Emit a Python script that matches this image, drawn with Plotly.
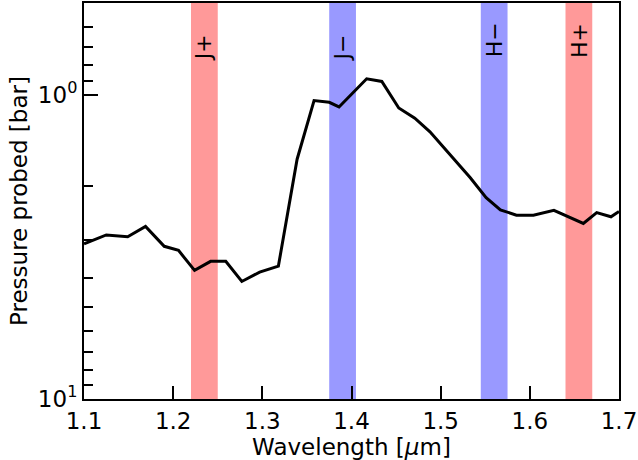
import math
import plotly.graph_objects as go

# ---- data ----
wavelength = [1.100, 1.125, 1.149, 1.169, 1.190, 1.206, 1.224, 1.242, 1.259, 1.277,
              1.297, 1.318, 1.339, 1.358, 1.375, 1.386, 1.417, 1.434, 1.453, 1.471,
              1.488, 1.509, 1.533, 1.551, 1.567, 1.585, 1.604, 1.627, 1.660, 1.675,
              1.691, 1.700]
pressure = [3.09, 2.89, 2.93, 2.71, 3.15, 3.25, 3.78, 3.53, 3.53, 4.11,
            3.83, 3.66, 1.63, 1.046, 1.06, 1.098, 0.887, 0.905, 1.106, 1.195,
            1.325, 1.555, 1.873, 2.18, 2.39, 2.49, 2.49, 2.40, 2.65, 2.44,
            2.52, 2.42]

band_labels = ["J+", "J\u2212", "H\u2212", "H+"]
band_start = [1.220, 1.375, 1.545, 1.640]
band_end = [1.250, 1.405, 1.575, 1.670]
band_label_p = [0.79, 0.79, 0.767, 0.767]
band_colors = ["#ff9999", "#9999ff", "#9999ff", "#ff9999"]

x_ticks = [1.1, 1.2, 1.3, 1.4, 1.5, 1.6, 1.7]
x_ticktext = ["1.1", "1.2", "1.3", "1.4", "1.5", "1.6", "1.7"]
y_ticks = [1, 10]
y_ticktext = ["10<sup>0</sup>", "10<sup>1</sup>"]
y_minor = [0.6, 0.7, 0.8, 0.9, 2, 3, 4, 5, 6, 7, 8, 9]

FONT = "DejaVu Sans"
FS = 23

fig = go.Figure()

fig.add_trace(go.Scatter(x=wavelength, y=pressure, mode="lines",
                         line=dict(color="black", width=3), showlegend=False,
                         hoverinfo="skip"))

for lab, x0, x1, p, c in zip(band_labels, band_start, band_end, band_label_p, band_colors):
    fig.add_shape(type="rect", xref="x", yref="paper", x0=x0, x1=x1, y0=0, y1=1,
                  fillcolor=c, line=dict(width=0), layer="below")
    fig.add_annotation(x=(x0 + x1) / 2, y=math.log10(p), xref="x", yref="y",
                       text=lab, textangle=-90, showarrow=False,
                       xanchor="center", yanchor="bottom",
                       font=dict(family=FONT, size=22, color="black"))

fig.update_layout(
    width=638, height=460,
    margin=dict(l=84, r=18, t=1, b=61),
    paper_bgcolor="white", plot_bgcolor="white",
    font=dict(family=FONT, size=FS, color="black"),
    showlegend=False,
)

fig.update_xaxes(
    range=[1.1, 1.7], tickmode="array", tickvals=x_ticks, ticktext=x_ticktext,
    ticks="inside", ticklen=13, tickwidth=2, tickcolor="black",
    showline=True, linewidth=2, linecolor="black", mirror=True,
    showgrid=False, zeroline=False, ticklabeloverflow="allow",
    tickfont=dict(family=FONT, size=FS),
    title=dict(text="Wavelength [<i>\u03bc</i>m]", font=dict(family=FONT, size=FS), standoff=0),
)

fig.update_yaxes(
    type="log", range=[1, math.log10(0.5)],
    tickmode="array", tickvals=y_ticks, ticktext=y_ticktext,
    ticks="inside", ticklen=14, tickwidth=2, tickcolor="black",
    minor=dict(tickmode="array", tickvals=y_minor, ticks="inside", ticklen=9,
               tickwidth=2, tickcolor="black", showgrid=False),
    showline=True, linewidth=2, linecolor="black", mirror=True,
    showgrid=False, zeroline=False, ticklabeloverflow="allow",
    tickfont=dict(family=FONT, size=FS),
    title=dict(text="Pressure probed [bar]", font=dict(family=FONT, size=FS), standoff=4),
)

fig.write_html("out.html", config={"displayModeBar": False},
               post_script="document.body.style.margin='0';document.body.style.overflow='hidden';")
